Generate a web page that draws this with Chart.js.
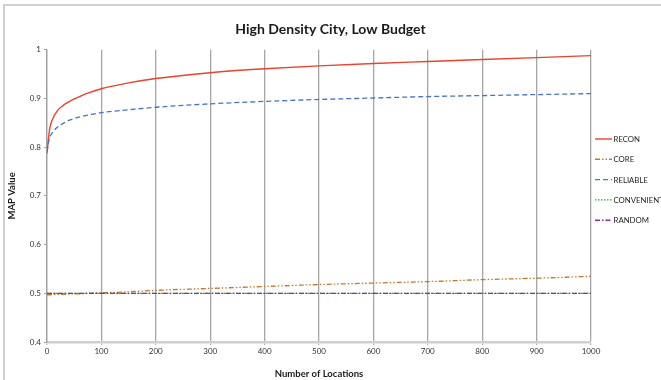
<!DOCTYPE html>
<html>
<head>
<meta charset="utf-8">
<script src="https://cdn.jsdelivr.net/npm/chart.js@4/dist/chart.umd.min.js"></script>
<style>
  html, body { margin: 0; padding: 0; background: #fff; }
  #wrap { position: relative; width: 661px; height: 380px; }
  #frame { position: absolute; left: 3px; top: 4px; right: 0; bottom: 0;
           border-left: 2px solid #cfcfcf; border-top: 2px solid #cfcfcf; pointer-events: none; }
  canvas { display: block; }
</style>
</head>
<body>
<div id="wrap">
  <canvas id="chart" width="661" height="380"></canvas>
  <div id="frame"></div>
</div>
<script>
// Number of locations sampled along the x axis
const locations = [0, 2, 5, 10, 20, 30, 40, 50, 60, 75, 100, 150, 200, 300, 400, 500, 600, 700, 800, 900, 1000];

// MAP value per method
const recon      = [0.787, 0.810, 0.838, 0.857, 0.876, 0.886, 0.893, 0.899, 0.904, 0.911, 0.920, 0.932, 0.941, 0.953, 0.961, 0.967, 0.972, 0.976, 0.980, 0.984, 0.988];
const core       = [0.497, 0.497, 0.497, 0.498, 0.498, 0.498, 0.499, 0.499, 0.499, 0.500, 0.501, 0.503, 0.506, 0.510, 0.514, 0.518, 0.521, 0.524, 0.528, 0.531, 0.535];
const reliable   = [0.790, 0.805, 0.820, 0.830, 0.842, 0.849, 0.855, 0.859, 0.862, 0.866, 0.871, 0.877, 0.882, 0.889, 0.894, 0.898, 0.901, 0.904, 0.906, 0.908, 0.910];
const convenient = [0.500, 0.500, 0.500, 0.500, 0.500, 0.500, 0.500, 0.500, 0.500, 0.500, 0.500, 0.500, 0.500, 0.500, 0.500, 0.500, 0.500, 0.500, 0.500, 0.500, 0.500];
const random     = [0.500, 0.500, 0.500, 0.500, 0.500, 0.500, 0.500, 0.500, 0.500, 0.500, 0.500, 0.500, 0.500, 0.500, 0.500, 0.500, 0.500, 0.500, 0.500, 0.500, 0.500];

const seriesNames = ['RECON', 'CORE', 'RELIABLE', 'CONVENIENT', 'RANDOM'];
const xTicks = [0, 100, 200, 300, 400, 500, 600, 700, 800, 900, 1000];
const yTicks = [0.4, 0.5, 0.6, 0.7, 0.8, 0.9, 1];

const FONT = 'Lato, "Open Sans", "Liberation Sans", sans-serif';

const styles = [
  { color: '#e8432d', dash: [] },
  { color: '#c07a30', dash: [5, 2, 1.5, 2, 1.5, 2] },
  { color: '#4a72c6', dash: [5, 3] },
  { color: '#2aa83a', dash: [1.5, 1.5] },
  { color: '#8e2c9c', dash: [5, 2, 1.5, 2] }
];

const values = [recon, core, reliable, convenient, random];

const datasets = values.map((vals, i) => ({
  label: seriesNames[i],
  data: locations.map((x, k) => ({ x: x, y: vals[k] })),
  borderColor: styles[i].color,
  borderDash: styles[i].dash,
  borderWidth: i === 0 ? 1.4 : 1.3,
  pointRadius: 0,
  fill: false,
  cubicInterpolationMode: 'monotone',
  order: i === 4 ? 0 : 5 - i
}));

// Legend drawn in the space right of the plot: short line sample + name
const sideLegend = {
  id: 'sideLegend',
  afterDraw(chart) {
    const ctx = chart.ctx;
    const x0 = 595, x1 = 612, tx = 613.5, y0 = 139, step = 20.3;
    chart.data.datasets.forEach((ds, i) => {
      const y = y0 + i * step;
      ctx.save();
      ctx.strokeStyle = ds.borderColor;
      ctx.lineWidth = 1.4;
      ctx.setLineDash(ds.borderDash || []);
      ctx.beginPath();
      ctx.moveTo(x0, y);
      ctx.lineTo(x1, y);
      ctx.stroke();
      ctx.setLineDash([]);
      ctx.fillStyle = '#222';
      ctx.font = '7.8px ' + FONT;
      ctx.textAlign = 'left';
      ctx.textBaseline = 'middle';
      ctx.fillText(ds.label, tx, y + 0.5);
      ctx.restore();
    });
  }
};

new Chart(document.getElementById('chart'), {
  type: 'line',
  data: { datasets: datasets },
  plugins: [sideLegend],
  options: {
    responsive: false,
    animation: false,
    events: [],
    layout: { padding: 0 },
    plugins: {
      legend: { display: false },
      tooltip: { enabled: false },
      title: {
        display: true,
        text: 'High Density City, Low Budget',
        color: '#1a1a1a',
        font: { family: FONT, size: 14, weight: 'bold' },
        padding: { top: 21, bottom: 12 }
      }
    },
    scales: {
      x: {
        type: 'linear',
        min: 0,
        max: 1000,
        afterBuildTicks(scale) { scale.ticks = xTicks.map(v => ({ value: v })); },
        afterFit(scale) { scale.height = 38; },
        grid: {
          display: true,
          drawOnChartArea: true,
          color: '#a6a6a6',
          lineWidth: 1.3,
          drawTicks: true,
          tickLength: 3,
          tickColor: '#b0b0b0'
        },
        border: { display: true, color: '#cfcfcf', width: 2.5 },
        ticks: {
          color: '#333',
          font: { family: FONT, size: 8 },
          padding: 2,
          maxRotation: 0,
          autoSkip: false,
          callback: v => String(v)
        },
        title: {
          display: true,
          text: 'Number of Locations',
          color: '#1a1a1a',
          font: { family: FONT, size: 9.5, weight: 'bold' },
          padding: { top: 4, bottom: 0 }
        }
      },
      y: {
        min: 0.4,
        max: 1,
        afterBuildTicks(scale) { scale.ticks = yTicks.map(v => ({ value: v })); },
        afterFit(scale) { scale.width = 47; },
        grid: {
          display: true,
          drawOnChartArea: false,
          drawTicks: true,
          tickLength: 3,
          tickColor: '#a0a0a0'
        },
        border: { display: true, color: '#a0a0a0', width: 1.3 },
        ticks: {
          color: '#333',
          font: { family: FONT, size: 8 },
          padding: 3,
          autoSkip: false,
          callback: v => String(Math.round(v * 10) / 10)
        },
        title: {
          display: true,
          text: 'MAP Value',
          color: '#1a1a1a',
          font: { family: FONT, size: 9.5, weight: 'bold' },
          padding: { top: 6, bottom: 0 }
        }
      },
      // empty right-hand axis that reserves the legend column
      legendSpace: {
        type: 'linear',
        position: 'right',
        display: true,
        afterFit(scale) { scale.width = 70; },
        grid: { display: false, drawOnChartArea: false, drawTicks: false },
        border: { display: false },
        ticks: { display: false }
      }
    }
  }
});
</script>
</body>
</html>
